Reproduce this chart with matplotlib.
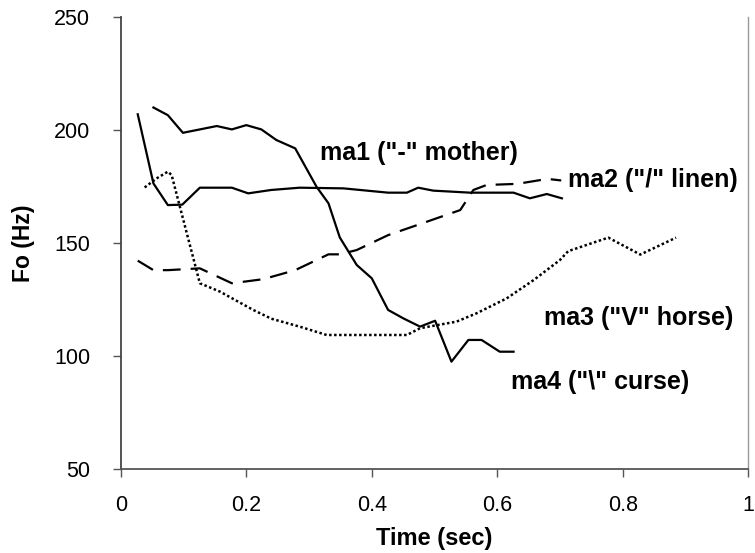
import matplotlib
matplotlib.use("Agg")
import matplotlib.pyplot as plt

# Fo contours (time in sec, Fo in Hz)
ma1_t = [0.027, 0.052, 0.075, 0.098, 0.126, 0.153, 0.177, 0.203, 0.24, 0.285, 0.355,
         0.426, 0.456, 0.474, 0.498, 0.557, 0.626, 0.652, 0.679, 0.703]
ma1_f = [207, 176.4, 166.8, 167, 174.5, 174.5, 174.5, 172, 173.5, 174.5, 174.2,
         172.3, 172.3, 174.5, 173.2, 172.3, 172.3, 169.8, 171.7, 169.8]

ma2_t = [0.027, 0.052, 0.075, 0.126, 0.177, 0.227, 0.278, 0.331, 0.349, 0.376,
         0.426, 0.477, 0.541, 0.562, 0.583, 0.632, 0.680, 0.702]
ma2_f = [142.2, 138, 138, 138.8, 132.2, 134, 138, 145, 145, 146.9,
         153.5, 158.4, 164.6, 173.5, 175.7, 176.2, 178.4, 177.7]

ma3_t = [0.038, 0.057, 0.075, 0.081, 0.126, 0.158, 0.211, 0.24, 0.285, 0.328,
         0.456, 0.477, 0.535, 0.567, 0.615, 0.658, 0.700, 0.713, 0.777, 0.828, 0.885]
ma3_f = [174.6, 178.6, 181.6, 180.1, 132.2, 128.5, 120.4, 116.5, 113, 109.3,
         109.3, 112.3, 115.2, 118.9, 125.5, 133.6, 142.5, 146.4, 152.4, 144.9, 152.4]

ma4_t = [0.052, 0.075, 0.099, 0.126, 0.153, 0.177, 0.200, 0.224, 0.248, 0.278,
         0.312, 0.331, 0.349, 0.376, 0.400, 0.426, 0.450, 0.477, 0.501, 0.527,
         0.554, 0.575, 0.604, 0.626]
ma4_f = [210, 206.6, 198.8, 200.3, 201.8, 200.3, 202.2, 200.3, 195.6, 191.9,
         174.9, 167.6, 152.5, 140.3, 134.4, 120.4, 116.7, 113, 115.6, 97.5,
         107.1, 107.1, 101.9, 101.9]

labels = ['ma1 ("-" mother)', 'ma2 ("/" linen)', 'ma3 ("V" horse)', 'ma4 ("\\" curse)']
label_pos = [(0.317, 189.8), (0.713, 177.9), (0.675, 116.8), (0.622, 88.5)]

x_ticks = [0, 0.2, 0.4, 0.6, 0.8, 1]
x_ticklabels = ["0", "0.2", "0.4", "0.6", "0.8", "1"]
y_ticks = [50, 100, 150, 200, 250]

plt.rcParams['font.family'] = ['Liberation Sans', 'DejaVu Sans']

fig = plt.figure(figsize=(7.55, 5.53), dpi=100)
ax = fig.add_axes([0.160, 0.152, 0.831, 0.817])

ax.plot(ma1_t, ma1_f, color="black", lw=1.6)
ax.plot(ma2_t, ma2_f, color="black", lw=1.6, dashes=(8, 4.5))
ax.plot(ma3_t, ma3_f, color="black", lw=1.8, linestyle=(0, (1, 1)))
ax.plot(ma4_t, ma4_f, color="black", lw=1.6)

for txt, (x, y) in zip(labels, label_pos):
    ax.text(x, y, txt, fontsize=18, fontweight="bold", ha="left", va="center")

ax.set_xlim(0, 1)
ax.set_ylim(50, 250)
ax.set_xticks(x_ticks)
ax.set_xticklabels(x_ticklabels)
ax.set_yticks(y_ticks)
ax.tick_params(axis="both", direction="out", length=6, width=1.0, labelsize=15.5,
               color="#555555")
ax.tick_params(axis="x", pad=13)
ax.tick_params(axis="y", pad=16)

ax.spines["top"].set_visible(False)
ax.spines["right"].set_color("#999999")
ax.spines["right"].set_linewidth(1.0)
ax.spines["left"].set_color("#444444")
ax.spines["left"].set_linewidth(1.3)
ax.spines["bottom"].set_color("#555555")
ax.spines["bottom"].set_linewidth(1.3)

ax.set_xlabel("Time (sec)", fontsize=17, fontweight="bold", labelpad=8)
ax.set_ylabel("Fo (Hz)", fontsize=16.5, fontweight="bold", labelpad=14)

fig.savefig("out.png", dpi=100)
